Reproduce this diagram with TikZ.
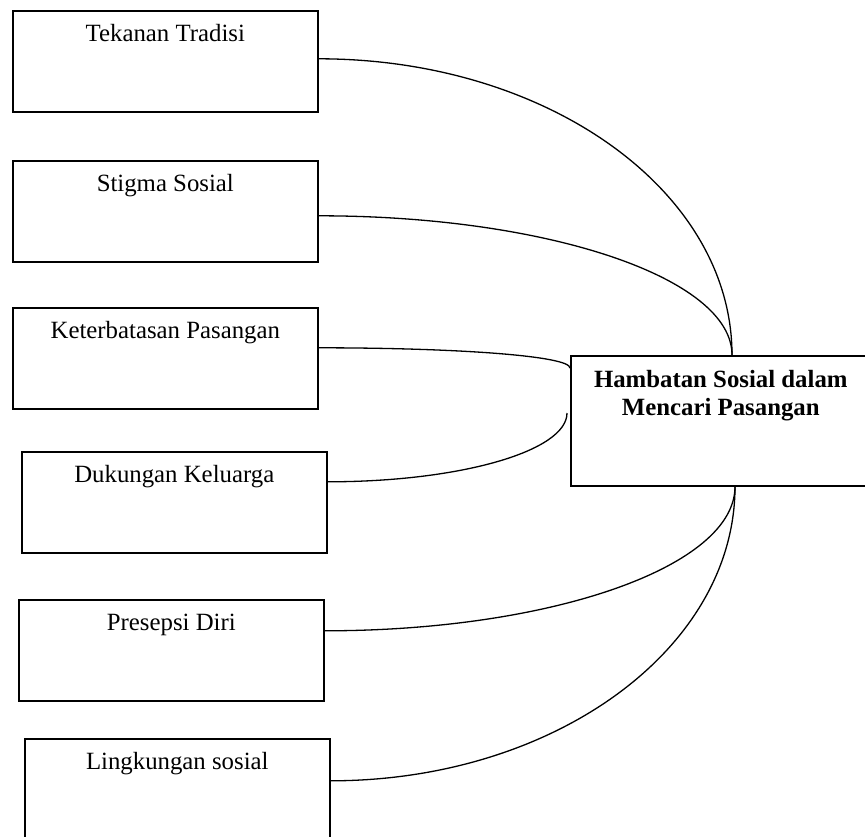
\documentclass[tikz,border=0pt]{standalone}
\usepackage{fontspec}
\setmainfont{Liberation Serif}
\tikzset{
  box/.style={draw, line width=1.6pt, minimum width=305pt, minimum height=101pt, anchor=north west, inner sep=0pt},
  teks/.style={font=\fontsize{24.8}{28}\selectfont, inner sep=0pt, anchor=base},
  garis/.style={line width=1.3pt}
}
\newcommand\kotak[4]{\node[box] (#1) at (#2,#3) {};
  \node[teks] (#1-teks) at ([yshift=-31pt]#1.north) {#4};}

\begin{document}
\begin{tikzpicture}[x=1pt,y=-1pt]
\useasboundingbox (0,0) rectangle (865,836);
\clip (0,0) rectangle (865,836);
\kotak{tradisi}{12}{10}{Tekanan Tradisi}
\kotak{stigma}{12}{160}{Stigma Sosial}
\kotak{batas}{12}{307}{Keterbatasan Pasangan}
\kotak{keluarga}{21}{451}{Dukungan Keluarga}
\kotak{diri}{18}{599}{Presepsi Diri}
\kotak{lingkungan}{24}{738}{Lingkungan sosial}
\node[box, minimum width=400pt, minimum height=130pt] (hambatan) at (570,355) {};
\node[teks, anchor=north, align=center, font={\fontsize{24.8}{28}\selectfont\bfseries}] (hambatan-teks) at ([xshift=-50pt,yshift=-15pt]hambatan.north) {Hambatan Sosial dalam\\Mencari Pasangan};
\coordinate (atas) at ([xshift=162pt]hambatan.north west);
\coordinate (bawah) at ([xshift=165pt]hambatan.south west);
\coordinate (kiri1) at ([yshift=-13pt]hambatan.north west);
\coordinate (kiri2) at ([xshift=-3pt,yshift=-58pt]hambatan.north west);
\draw[garis] ([yshift=2.5pt]tradisi.east) .. controls +(229,0) and +(0,-164) .. (atas);
\draw[garis] ([yshift=-4.5pt]stigma.east) .. controls +(229,0) and +(0,-77) .. (atas);
\draw[garis] ([yshift=10.5pt]batas.east) .. controls +(140,0) and +(0,-12) .. (kiri1);
\draw[garis] ([yshift=20.5pt]keluarga.east) .. controls +(133,0) and +(0,38) .. (kiri2);
\draw[garis] ([yshift=19.5pt]diri.east) .. controls +(227,0) and +(0,80) .. (bawah);
\draw[garis] ([yshift=8.5pt]lingkungan.east) .. controls +(224,0) and +(0,162) .. (bawah);
\end{tikzpicture}
\end{document}
